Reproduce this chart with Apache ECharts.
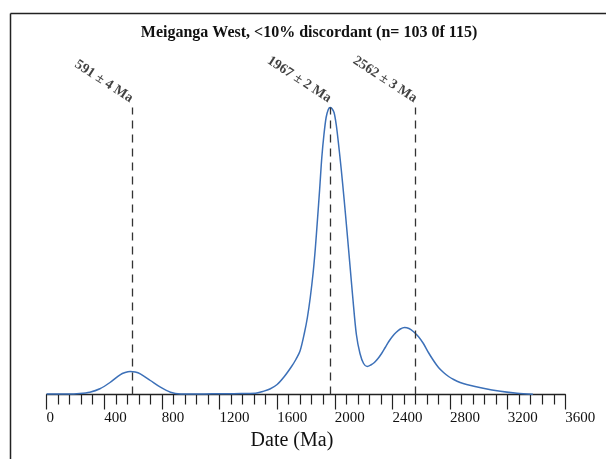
<!DOCTYPE html>
<html>
<head>
<meta charset="utf-8">
<script src="https://cdn.jsdelivr.net/npm/echarts@6/dist/echarts.min.js"></script>
<style>
  html, body { margin: 0; padding: 0; background: #fff; overflow: hidden; }
  #chart { width: 606px; height: 459px; }
</style>
</head>
<body>
<div id="chart"></div>
<script>
// probability density curve (age in Ma, relative density)
var ages = [0, 150, 230, 300, 370, 440, 510, 545, 580, 615, 650, 720, 790, 860, 930, 1000, 1100, 1200, 1300, 1400,
    1450, 1500, 1550, 1600, 1650, 1700, 1730, 1760, 1790, 1810, 1830, 1850, 1865, 1880, 1895, 1910, 1925, 1940, 1955, 1968, 1980, 1995, 2010,
    2025, 2045, 2065, 2085, 2105, 2125, 2150, 2175, 2200, 2225, 2250, 2275, 2300, 2325, 2350, 2375, 2400, 2425, 2455, 2485, 2515, 2545, 2580, 2615,
    2650, 2685, 2720, 2755, 2790, 2825, 2870, 2915, 3030, 3150, 3265, 3375];
var density = [0.5, 0.5, 1, 2.3, 5.7, 12, 19.7, 22, 23, 22.5, 20.7, 14, 7.3, 2.3, 0.6, 0.5, 0.6, 0.7, 0.8, 1,
    1.2, 3, 5.5, 10, 18, 28, 35, 44, 62, 77, 97, 122, 146, 175, 205, 237, 260, 277, 285, 287, 286, 282, 270,
    252, 225, 195, 163, 130, 97, 60, 41, 31, 28, 29.5, 32, 36, 41, 47, 53, 58, 62, 65.5, 67, 66, 63, 58, 51,
    42, 34, 27, 22, 18, 15, 12, 10, 6.3, 3.3, 1.3, 0.3];

// peak ages marked with dashed lines
var peakAges = [591, 1967, 2562];
var peakLabels = ['591 ± 4 Ma', '1967 ± 2 Ma', '2562 ± 3 Ma'];
var peakTop = 287;

var titleText = 'Meiganga West, <10% discordant (n= 103 0f 115)';
var axisName = 'Date (Ma)';

var curve = ages.map(function (a, i) { return [a, density[i]]; });
var lines = peakAges.map(function (a) {
    return [{ coord: [a, 0] }, { coord: [a, peakTop] }];
});
var labelPts = peakAges.map(function (a, i) { return [a, peakTop + 8, peakLabels[i]]; });

var serif = '"Liberation Serif", "DejaVu Serif", serif';
var frameStyle = { stroke: '#222', lineWidth: 1.5 };

var myChart = echarts.init(document.getElementById('chart'));
var option = {
    animation: false,
    title: {
        text: titleText,
        left: 304,
        textAlign: 'center',
        top: 20,
        textStyle: { fontFamily: serif, fontWeight: 'bold', fontSize: 16, color: '#111' }
    },
    graphic: [
        { type: 'line', silent: true, shape: { x1: 10.5, y1: 13.5, x2: 10.5, y2: 459 }, style: frameStyle },
        { type: 'line', silent: true, shape: { x1: 10.5, y1: 13.5, x2: 606, y2: 13.5 }, style: frameStyle }
    ],
    grid: { left: 46.6, right: 40.7, top: 94.5, bottom: 64.5 },
    xAxis: {
        type: 'value',
        min: 0,
        max: 3600,
        interval: 400,
        name: axisName,
        nameLocation: 'middle',
        nameGap: 32,
        nameTextStyle: { fontFamily: serif, fontSize: 20, color: '#111', padding: [0, 28, 0, 0] },
        axisLine: { show: true, lineStyle: { color: '#222', width: 1.3 } },
        axisTick: { show: true, length: 15, lineStyle: { color: '#222', width: 1.2 } },
        minorTick: { show: true, splitNumber: 5, length: 10, lineStyle: { color: '#222', width: 1.2 } },
        splitLine: { show: false },
        axisLabel: {
            align: 'left',
            margin: 16,
            fontFamily: serif,
            fontSize: 15,
            color: '#111',
            showMinLabel: true,
            showMaxLabel: true,
            formatter: function (v) { return String(v); }
        }
    },
    yAxis: {
        type: 'value',
        min: 0,
        max: 300,
        show: false
    },
    series: [{
        type: 'line',
        data: curve,
        smooth: 0.3,
        symbol: 'none',
        lineStyle: { color: '#3c70b8', width: 1.5 },
        markLine: {
            silent: true,
            symbol: 'none',
            label: { show: false },
            lineStyle: { color: '#333', type: [8, 6], width: 1.3 },
            data: lines
        },
        z: 3
    }, {
        type: 'scatter',
        data: labelPts,
        symbolSize: 0,
        silent: true,
        label: {
            show: true,
            position: [0, 0],
            align: 'right',
            verticalAlign: 'middle',
            rotate: -33,
            formatter: function (p) { return p.data[2]; },
            fontFamily: serif,
            fontWeight: 'bold',
            fontSize: 14,
            color: '#111'
        }
    }]
};
myChart.setOption(option);
</script>
</body>
</html>
